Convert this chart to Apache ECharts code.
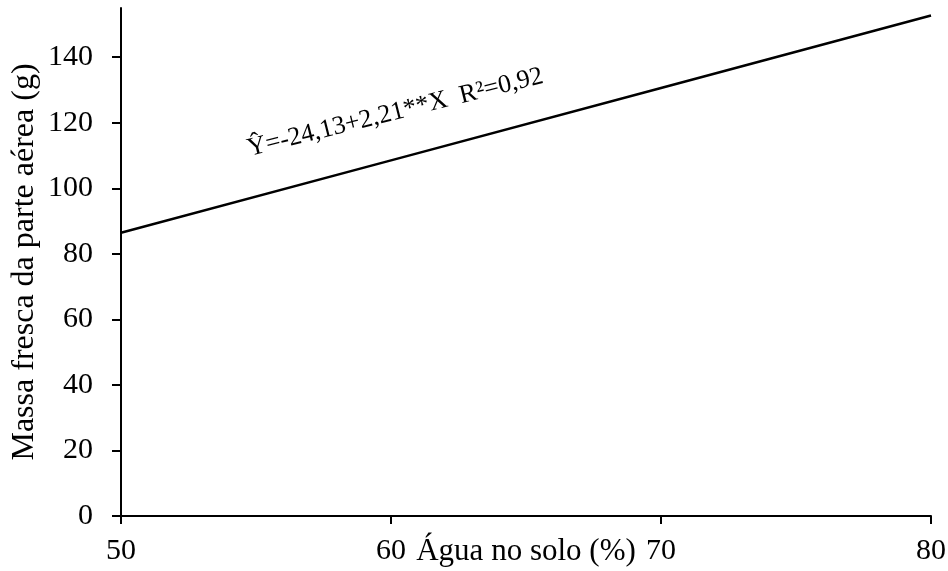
<!DOCTYPE html>
<html>
<head>
<meta charset="utf-8">
<script src="https://cdn.jsdelivr.net/npm/echarts@6/dist/echarts.min.js"></script>
<style>
  html, body { margin: 0; padding: 0; background: #fff; }
  #main { width: 948px; height: 571px; }
</style>
</head>
<body>
<div id="main"></div>
<script>
// valores
var agua = [50, 60, 70, 80];
var massa = [86.4, 108.5, 130.6, 152.7];
var xTicks = [50, 60, 70, 80];
var yTicks = [0, 20, 40, 60, 80, 100, 120, 140];
var equacao = 'Ŷ=-24,13+2,21**X  R²=0,92';

var fonte = '"Liberation Serif", "Times New Roman", serif';
var myChart = echarts.init(document.getElementById('main'));

myChart.setOption({
  animation: false,
  backgroundColor: '#fff',
  grid: { left: 121, right: 17, top: 8, bottom: 55, containLabel: false, outerBoundsMode: 'none' },
  xAxis: {
    type: 'value',
    min: 50,
    max: 80,
    interval: 10,
    name: 'Água no solo (%)',
    nameLocation: 'middle',
    nameGap: 20,
    nameMoveOverlap: false,
    nameTextStyle: { fontFamily: fonte, fontSize: 31, color: '#000', verticalAlign: 'top' },
    axisLine: { lineStyle: { color: '#000', width: 2 } },
    axisTick: { show: true, length: 8, lineStyle: { color: '#000', width: 2 } },
    axisLabel: {
      fontFamily: fonte, fontSize: 30, color: '#000', margin: 20,
      formatter: function (v) { return xTicks.indexOf(v) >= 0 ? String(v) : ''; }
    },
    splitLine: { show: false }
  },
  yAxis: {
    type: 'value',
    min: 0,
    max: 155,
    interval: 20,
    name: 'Massa fresca da parte aérea (g)',
    nameLocation: 'middle',
    nameGap: 80,
    nameMoveOverlap: false,
    nameTextStyle: { fontFamily: fonte, fontSize: 32, color: '#000' },
    axisLine: { show: true, lineStyle: { color: '#000', width: 2 } },
    axisTick: { show: true, length: 9, lineStyle: { color: '#000', width: 2 } },
    axisLabel: {
      fontFamily: fonte, fontSize: 30, color: '#000', margin: 28,
      showMaxLabel: false,
      formatter: function (v) { return yTicks.indexOf(v) >= 0 ? String(v) : ''; }
    },
    splitLine: { show: false }
  },
  series: [{
    type: 'line',
    data: agua.map(function (x, i) { return [x, massa[i]]; }),
    symbol: 'none',
    lineStyle: { color: '#000', width: 2.5 },
    silent: true
  }],
  graphic: [{
    type: 'text',
    x: 251,
    y: 162,
    rotation: 14 * Math.PI / 180,
    style: {
      text: equacao,
      fontFamily: fonte,
      fontSize: 26,
      fill: '#000',
      align: 'left',
      verticalAlign: 'bottom'
    }
  }]
});
</script>
</body>
</html>
